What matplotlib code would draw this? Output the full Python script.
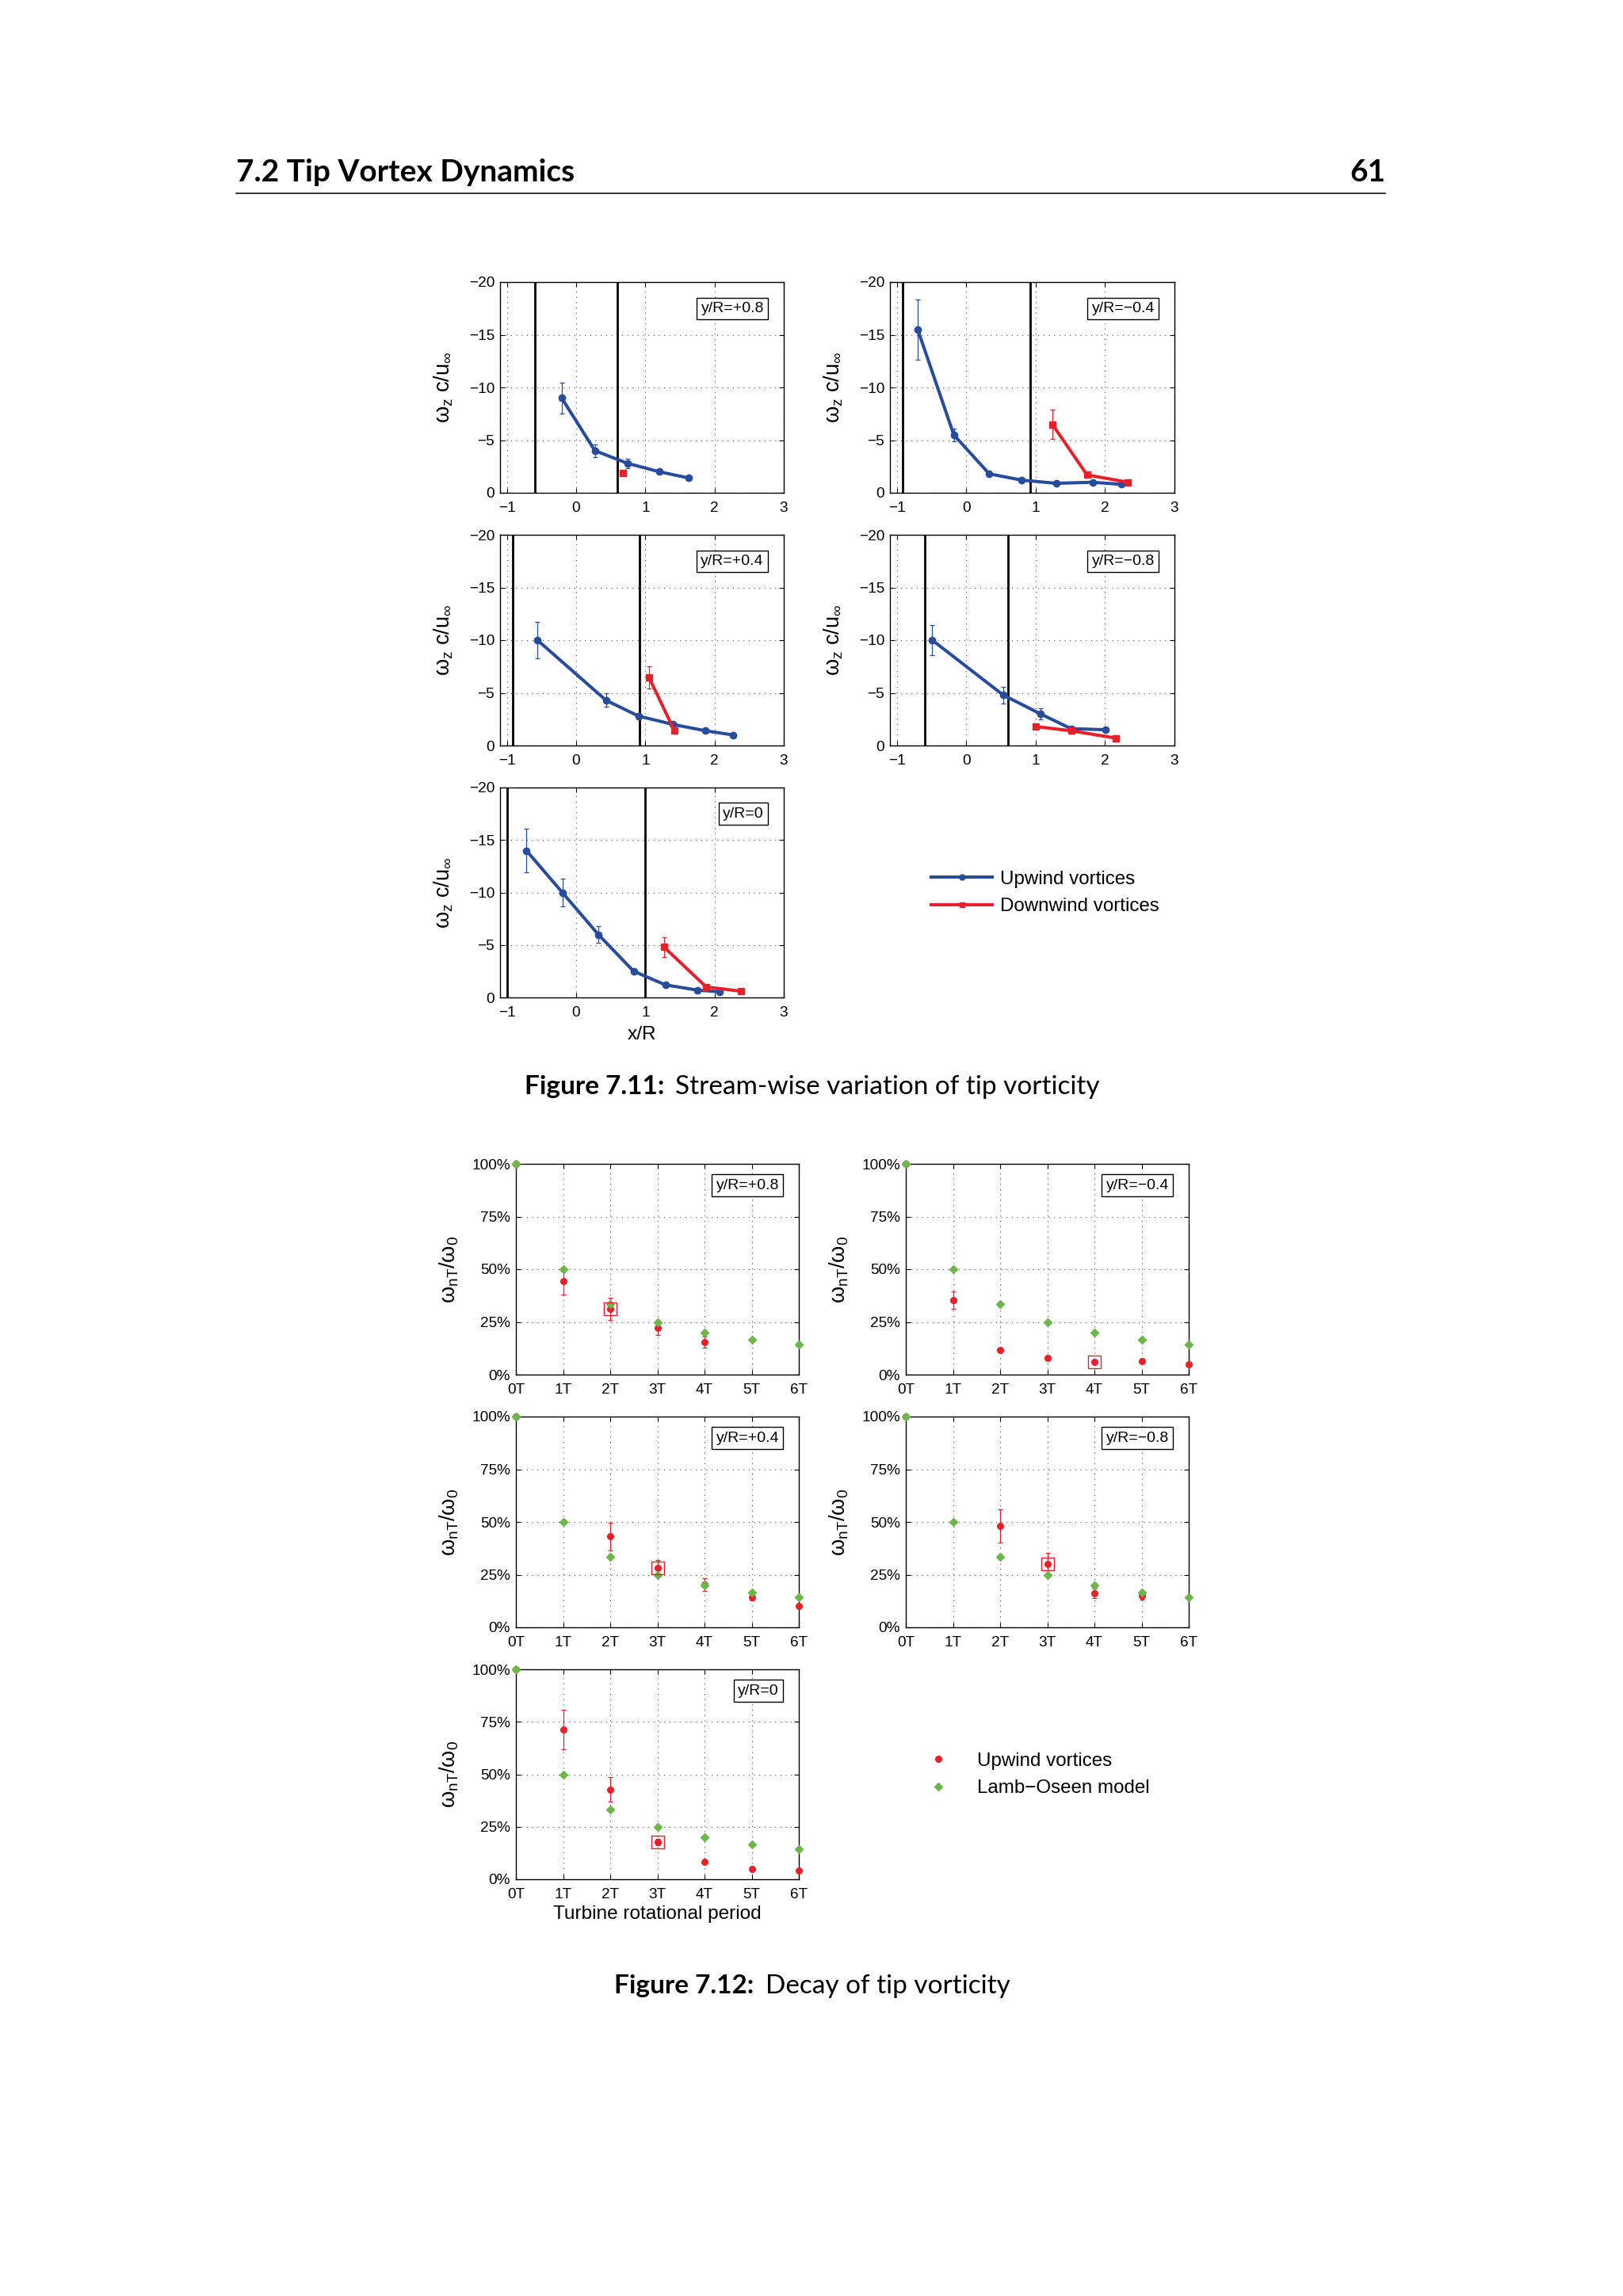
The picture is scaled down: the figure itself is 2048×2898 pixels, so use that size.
import matplotlib
matplotlib.use('Agg')
import numpy as np
import matplotlib.pyplot as plt
from matplotlib.lines import Line2D

plt.rcParams['font.family'] = ['Liberation Sans', 'DejaVu Sans']
plt.rcParams['mathtext.fontset'] = 'custom'
plt.rcParams['mathtext.rm'] = 'Liberation Sans'
plt.rcParams['mathtext.it'] = 'Liberation Sans:italic'
plt.rcParams['mathtext.default'] = 'regular'

# ---- Figure 7.11 data (stream-wise tip vorticity) ----
top_labels = ['y/R=+0.8', 'y/R=\u22120.4', 'y/R=+0.4', 'y/R=\u22120.8', 'y/R=0']
edge_x = [0.6, 0.92, 0.92, 0.6, 1.0]

up_x = [[-0.21, 0.27, 0.74, 1.20, 1.63],
        [-0.70, -0.18, 0.33, 0.80, 1.30, 1.82, 2.24],
        [-0.56, 0.43, 0.90, 1.40, 1.87, 2.27],
        [-0.49, 0.53, 1.07, 1.51, 2.01],
        [-0.72, -0.20, 0.32, 0.83, 1.29, 1.75, 2.07]]
up_y = [[-9.0, -4.0, -2.8, -2.0, -1.4],
        [-15.5, -5.5, -1.8, -1.2, -0.9, -1.0, -0.8],
        [-10.0, -4.3, -2.8, -2.0, -1.4, -1.0],
        [-10.0, -4.8, -3.0, -1.6, -1.5],
        [-14.0, -10.0, -6.0, -2.5, -1.2, -0.7, -0.55]]
up_err = [[1.45, 0.6, 0.45, 0.2, 0],
          [2.85, 0.6, 0, 0, 0, 0, 0],
          [1.75, 0.65, 0.3, 0, 0, 0],
          [1.4, 0.8, 0.5, 0, 0],
          [2.05, 1.3, 0.83, 0.2, 0, 0, 0]]

dn_x = [[0.67],
        [1.24, 1.74, 2.33],
        [1.05, 1.42],
        [1.00, 1.51, 2.16],
        [1.27, 1.88, 2.38]]
dn_y = [[-1.9],
        [-6.5, -1.7, -1.0],
        [-6.5, -1.4],
        [-1.8, -1.4, -0.7],
        [-4.8, -1.0, -0.6]]
dn_err = [[0],
          [1.37, 0, 0],
          [1.05, 0],
          [0, 0, 0],
          [0.97, 0, 0]]

# ---- Figure 7.12 data (decay of tip vorticity) ----
periods = [0, 1, 2, 3, 4, 5, 6]
period_labels = ['0T', '1T', '2T', '3T', '4T', '5T', '6T']
lamb_oseen = [100, 50, 33.3, 25, 20, 16.7, 14.3]

dec_n = [[0, 1, 2, 3, 4],
         [0, 1, 2, 3, 4, 5, 6],
         [0, 2, 3, 4, 5, 6],
         [0, 2, 3, 4, 5],
         [0, 1, 2, 3, 4, 5, 6]]
dec_v = [[100, 44.3, 31.1, 22.1, 15.4],
         [100, 35.4, 11.5, 7.8, 5.9, 6.5, 5.0],
         [100, 43.1, 28.1, 20.2, 14.1, 10.2],
         [100, 48.2, 30.2, 16.1, 15.1],
         [100, 71.3, 42.8, 17.9, 8.4, 4.9, 4.2]]
dec_err = [[0, 6.5, 5.2, 3.3, 2.5],
           [0, 4.1, 0, 0, 0, 0, 0],
           [0, 6.5, 4.0, 3.0, 1.5, 0],
           [0, 7.8, 5.0, 2.3, 2.0],
           [0, 9.4, 6.0, 1.5, 0, 0, 0]]
box_n = [2, 4, 3, 3, 3]

blue = '#284c9c'
red = '#e8202a'
green = '#6cb64a'

W, H = 2048, 2898
fig = plt.figure(figsize=(W / 100, H / 100), dpi=100)


def px_axes(l, t, r, b):
    return fig.add_axes([l / W, 1 - b / H, (r - l) / W, (b - t) / H])


def style(ax):
    ax.tick_params(direction='in', top=True, right=True, length=4,
                   labelsize=13.7, width=0.8)
    ax.tick_params(axis='x', pad=8)
    ax.tick_params(axis='y', pad=5)
    ax.grid(True, linestyle=(0, (1, 5)), color='0.3', lw=0.8)
    ax.set_axisbelow(True)
    for s in ax.spines.values():
        s.set_linewidth(1.0)


def label_box(ax, txt, y):
    ax.text(0.93, y, txt, transform=ax.transAxes, ha='right', va='center',
            fontsize=14, zorder=10,
            bbox=dict(boxstyle='square,pad=0.28', fc='white', ec='black', lw=1.0))


top_cols = [(631, 989), (1123, 1482)]
top_rows = [(356, 622), (675, 941), (994, 1259)]
bot_cols = [(651, 1008), (1143, 1500)]
bot_rows = [(1469, 1735), (1788, 2054), (2107, 2372)]
slots = [(0, 0), (0, 1), (1, 0), (1, 1), (2, 0)]

for i, (r, c) in enumerate(slots):
    ax = px_axes(top_cols[c][0], top_rows[r][0], top_cols[c][1], top_rows[r][1])
    style(ax)
    ax.axvline(-edge_x[i], color='k', lw=2.0, zorder=2)
    ax.axvline(edge_x[i], color='k', lw=2.0, zorder=2)
    ux, uy, ue = np.array(up_x[i]), np.array(up_y[i]), np.array(up_err[i])
    m = ue > 0
    ax.errorbar(ux[m], uy[m], yerr=ue[m], fmt='none', ecolor=blue, elinewidth=0.9,
                capsize=2.5, capthick=0.9, zorder=3)
    ax.plot(ux, uy, '-o', color=blue, lw=2.9, ms=6, zorder=4)
    dx, dy, de = np.array(dn_x[i]), np.array(dn_y[i]), np.array(dn_err[i])
    m = de > 0
    ax.errorbar(dx[m], dy[m], yerr=de[m], fmt='none', ecolor=red, elinewidth=0.9,
                capsize=2.5, capthick=0.9, zorder=3)
    ax.plot(dx, dy, '-s', color=red, lw=2.9, ms=5.2, zorder=4)
    ax.set_xlim(-1.1, 3)
    ax.set_ylim(0, -20)
    ax.set_xticks([-1, 0, 1, 2, 3])
    ax.set_yticks([-20, -15, -10, -5, 0])
    ax.set_ylabel(r'$\omega_z$ c/u$_\infty$', fontsize=19.5)
    ax.yaxis.set_label_coords(-0.16, 0.5)
    label_box(ax, top_labels[i], 0.874)
    if i == 4:
        ax.set_xlabel('x/R', fontsize=17.6)
        ax.xaxis.set_label_coords(0.5, -0.135)

h_top = [Line2D([], [], color=blue, lw=2.9, marker='o', ms=5),
         Line2D([], [], color=red, lw=2.9, marker='s', ms=5)]
fig.legend(h_top, ['Upwind vortices', 'Downwind vortices'], loc='center left',
           bbox_to_anchor=(1175 / W, 1 - 1127 / H), frameon=False, fontsize=17.4,
           handlelength=3.2, handletextpad=0.4, borderpad=0, borderaxespad=0,
           labelspacing=0.52)

for i, (r, c) in enumerate(slots):
    ax = px_axes(bot_cols[c][0], bot_rows[r][0], bot_cols[c][1], bot_rows[r][1])
    style(ax)
    n, v, e = np.array(dec_n[i]), np.array(dec_v[i]), np.array(dec_err[i])
    m = e > 0
    ax.errorbar(n[m], v[m], yerr=e[m], fmt='none', ecolor=red, elinewidth=0.9,
                capsize=2.5, capthick=0.9, zorder=3, clip_on=False)
    ax.plot(n, v, 'o', color=red, ms=5.5, zorder=4, clip_on=False)
    ax.plot(periods, lamb_oseen, 'D', color=green, ms=4.6, zorder=5, clip_on=False)
    bv = v[list(n).index(box_n[i])]
    ax.plot([box_n[i]], [bv], 's', mfc='none', mec=red, mew=1.0, ms=11, zorder=6)
    ax.set_xlim(0, 6)
    ax.set_ylim(0, 100)
    ax.set_xticks(periods)
    ax.set_xticklabels(period_labels)
    ax.set_yticks([0, 25, 50, 75, 100])
    ax.set_yticklabels(['0%', '25%', '50%', '75%', '100%'])
    ax.set_ylabel(r'$\omega_{nT}/\omega_0$', fontsize=19.5)
    ax.yaxis.set_label_coords(-0.195, 0.5)
    label_box(ax, top_labels[i], 0.898)
    if i == 4:
        ax.set_xlabel('Turbine rotational period', fontsize=17.6)
        ax.xaxis.set_label_coords(0.5, -0.125)

h_bot = [Line2D([], [], ls='none', marker='o', color=red, ms=5.5),
         Line2D([], [], ls='none', marker='D', color=green, ms=4.6)]
fig.legend(h_bot, ['Upwind vortices', 'Lamb\u2212Oseen model'], loc='center left',
           bbox_to_anchor=(1154 / W, 1 - 2240 / H), frameon=False, fontsize=17.4,
           handlelength=2.5, handletextpad=0.75, borderpad=0, borderaxespad=0,
           labelspacing=0.52)

# ---- page furniture ----
fig.text(298 / W, 1 - 229 / H, '7.2 Tip Vortex Dynamics', family='Lato',
         weight='bold', fontsize=28, ha='left', va='baseline')
fig.text(1748 / W, 1 - 229 / H, '61', family='Lato', weight='bold', fontsize=28,
         ha='right', va='baseline')
fig.add_artist(Line2D([298 / W, 1748 / W], [1 - 244 / H, 1 - 244 / H],
                      color='k', lw=1.1, transform=fig.transFigure))


def caption(yb, bold, rest):
    t1 = fig.text(0, 1 - yb / H, bold, family='Lato', weight='bold', fontsize=24,
                  va='baseline')
    t2 = fig.text(0, 1 - yb / H, rest, family='Lato', fontsize=24, va='baseline')
    rend = fig.canvas.get_renderer()
    w1 = t1.get_window_extent(rend).width
    w2 = t2.get_window_extent(rend).width
    gap = 14
    x0 = 1025 - (w1 + gap + w2) / 2
    t1.set_x(x0 / W)
    t2.set_x((x0 + w1 + gap) / W)


caption(1381, 'Figure 7.11:', 'Stream-wise variation of tip vorticity')
caption(2516, 'Figure 7.12:', 'Decay of tip vorticity')

fig.savefig('out.png', dpi=100, facecolor='white')
